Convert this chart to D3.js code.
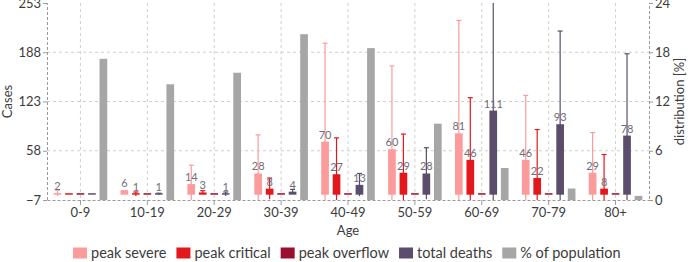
<!DOCTYPE html>
<html>
<head>
<meta charset="utf-8">
<script src="https://cdn.jsdelivr.net/npm/d3@7"></script>
<style>
  html, body { margin: 0; padding: 0; background: #fff; }
  svg { display: block; font-family: Lato, "Noto Sans", sans-serif; }
</style>
</head>
<body>
<div id="chart"></div>
<script>
// age groups and values
const ages = ['0-9', '10-19', '20-29', '30-39', '40-49', '50-59', '60-69', '70-79', '80+'];
const peakSevere = [2, 6, 14, 28, 70, 60, 81, 46, 29];
const peakCritical = [0, 1, 3, 8, 27, 29, 46, 22, 8];
const peakOverflow = [0, 0, 0, 0, 0, 0, 0, 0, 0];
const totalDeaths = [0, 1, 1, 4, 13, 28, 111, 93, 78];
const popShare = [17.2, 14.1, 15.5, 20.2, 18.5, 9.3, 3.9, 1.4, 0.5];

// half-width of the error bars
const severeErr = [4, 0, 25, 51, 130, 110, 149, 85, 53];
const criticalErr = [0, 2.6, 2.3, 14, 48, 51, 82, 64, 45];
const deathsErr = [0, 1, 2.6, 3, 15, 34, 150, 123, 108];

const leftTicks = [-7, 58, 123, 188, 253];
const rightTicks = [0, 6, 12, 18, 24];

const series = [
    {key: 'peak severe', values: peakSevere, err: severeErr, color: '#fc9b9b', axis: 'left'},
    {key: 'peak critical', values: peakCritical, err: criticalErr, color: '#e3181d', axis: 'left'},
    {key: 'peak overflow', values: peakOverflow, err: null, color: '#9a0f30', axis: 'left'},
    {key: 'total deaths', values: totalDeaths, err: deathsErr, color: '#5c4d6c', axis: 'left'},
    {key: '% of population', values: popShare, err: null, color: '#a6a6a6', axis: 'right'}
];

const W = 690, H = 262;
const margin = {top: 3, right: 41, bottom: 62, left: 47};
const width = W - margin.left - margin.right;
const height = H - margin.top - margin.bottom;

const svg = d3.select('#chart').append('svg')
    .attr('width', W)
    .attr('height', H);

const g = svg.append('g').attr('transform', `translate(${margin.left},${margin.top})`);

const x0 = d3.scaleBand().domain(ages).range([0, width]).padding(0);
const x1 = d3.scaleBand().domain(series.map(s => s.key)).range([0, x0.bandwidth()])
    .paddingInner(0.33).paddingOuter(0.58);
const yL = d3.scaleLinear().domain([-7, 253]).range([height, 0]);
const yR = d3.scaleLinear().domain([0, 24]).range([height, 0]);

g.append('clipPath').attr('id', 'plotClip')
    .append('rect').attr('x', 0).attr('y', 0).attr('width', width).attr('height', height);

// grid
const gridColor = '#cfcfcf';
g.selectAll('.hgrid')
    .data(leftTicks.slice(1, -1))
    .enter().append('line')
    .attr('x1', 0).attr('x2', width)
    .attr('y1', d => yL(d)).attr('y2', d => yL(d))
    .attr('stroke', gridColor).attr('stroke-dasharray', '3,3');

g.selectAll('.vgrid')
    .data(ages)
    .enter().append('line')
    .attr('x1', d => x0(d) + x0.bandwidth() / 2).attr('x2', d => x0(d) + x0.bandwidth() / 2)
    .attr('y1', 0).attr('y2', height)
    .attr('stroke', gridColor).attr('stroke-dasharray', '3,3');

// bars
const plot = g.append('g').attr('clip-path', 'url(#plotClip)');

const flat = [];
series.forEach(s => {
    s.values.forEach((v, i) => {
        flat.push({series: s, age: ages[i], value: v, err: s.err ? s.err[i] : 0});
    });
});

const barH = d => {
    const y = d.series.axis === 'right' ? yR : yL;
    return Math.max(y(0) - y(d.value), 1.5);
};

plot.selectAll('rect.bar')
    .data(flat)
    .enter().append('rect')
    .attr('class', 'bar')
    .attr('x', d => x0(d.age) + x1(d.series.key))
    .attr('width', x1.bandwidth())
    .attr('y', d => (d.series.axis === 'right' ? yR : yL)(0) - barH(d))
    .attr('height', barH)
    .attr('fill', d => d.series.color);

// error bars
const withErr = flat.filter(d => d.err > 0);
const cx = d => x0(d.age) + x1(d.series.key) + x1.bandwidth() / 2;

plot.selectAll('line.whisker')
    .data(withErr)
    .enter().append('line')
    .attr('x1', cx).attr('x2', cx)
    .attr('y1', d => yL(d.value + d.err))
    .attr('y2', d => yL(d.value - d.err))
    .attr('stroke', d => d.series.color)
    .attr('stroke-width', 1.2);

plot.selectAll('line.cap')
    .data(withErr)
    .enter().append('line')
    .attr('x1', d => cx(d) - 2.5).attr('x2', d => cx(d) + 2.5)
    .attr('y1', d => yL(d.value + d.err))
    .attr('y2', d => yL(d.value + d.err))
    .attr('stroke', d => d.series.color)
    .attr('stroke-width', 1.2);

// value labels
g.selectAll('text.val')
    .data(flat.filter(d => d.series.axis === 'left' && d.value > 0))
    .enter().append('text')
    .attr('x', cx)
    .attr('y', d => yL(d.value) - 3)
    .attr('text-anchor', 'middle')
    .attr('font-size', '11px')
    .attr('fill', '#6e6e78')
    .text(d => d.value);

// axes
const axisColor = '#9a9a9a';
const textColor = '#3c3c3c';

const leftAxis = g.append('g')
    .call(d3.axisLeft(yL).tickValues(leftTicks).tickSize(4).tickPadding(2));
const rightAxis = g.append('g')
    .attr('transform', `translate(${width},0)`)
    .call(d3.axisRight(yR).tickValues(rightTicks).tickSize(4).tickPadding(2));
const bottomAxis = g.append('g')
    .attr('transform', `translate(0,${height})`)
    .call(d3.axisBottom(x0).tickSize(5).tickPadding(3).tickSizeOuter(0));

[leftAxis, rightAxis, bottomAxis].forEach(a => {
    a.select('.domain').attr('stroke', axisColor).attr('stroke-dasharray', '3,2');
    a.selectAll('.tick line').attr('stroke', axisColor);
    a.selectAll('.tick text').attr('fill', textColor).attr('font-size', '13px')
        .attr('font-family', 'Lato, "Noto Sans", sans-serif');
});

// axis titles
svg.append('text')
    .attr('transform', `translate(12,${margin.top + height / 2}) rotate(-90)`)
    .attr('text-anchor', 'middle')
    .attr('font-size', '13px')
    .attr('fill', textColor)
    .text('Cases');

svg.append('text')
    .attr('transform', `translate(684,${margin.top + height / 2}) rotate(-90)`)
    .attr('text-anchor', 'middle')
    .attr('font-size', '13px')
    .attr('fill', textColor)
    .text('distribution [%]');

svg.append('text')
    .attr('x', margin.left + width / 2)
    .attr('y', 235)
    .attr('text-anchor', 'middle')
    .attr('font-size', '13px')
    .attr('fill', textColor)
    .text('Age');

// legend
const legend = svg.append('g').attr('transform', 'translate(0,253)');
let lx = 73;
series.forEach(s => {
    const item = legend.append('g').attr('transform', `translate(${lx},0)`);
    item.append('rect')
        .attr('x', 0).attr('y', -5.5)
        .attr('width', 14).attr('height', 11)
        .attr('fill', s.color);
    const t = item.append('text')
        .attr('x', 18).attr('y', 0)
        .attr('dy', '0.35em')
        .attr('font-size', '14.5px')
        .attr('fill', textColor)
        .text(s.key);
    lx += 18 + t.node().getComputedTextLength() + 10;
});
</script>
</body>
</html>
